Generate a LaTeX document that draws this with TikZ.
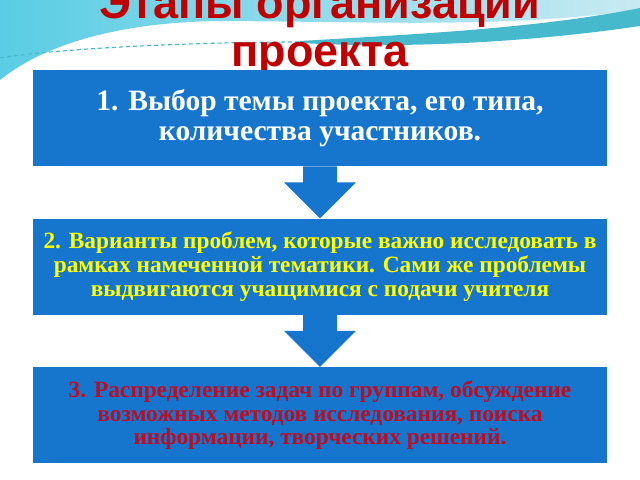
\documentclass[tikz,border=0pt]{standalone}
\usepackage{fontspec}
\setmainfont{Liberation Serif}
\newfontfamily\titlefont{Liberation Sans}
\usepackage{tikz}
\usetikzlibrary{positioning,calc}

\definecolor{boxblue}{RGB}{22,118,206}
\definecolor{titlered}{RGB}{192,0,0}
\definecolor{textyellow}{RGB}{255,255,0}
\definecolor{textred}{RGB}{190,12,34}
\definecolor{waveleft}{RGB}{90,205,228}
\definecolor{waveright}{RGB}{200,234,242}
\definecolor{waveband}{RGB}{70,185,205}

\begin{document}
\begin{tikzpicture}[x=0.025cm,y=-0.025cm,
	stage/.style={fill=boxblue, minimum width=14.35cm, minimum height=2.4cm, inner sep=0pt, align=center, font=\bfseries},
	arrowfill/.style={fill=boxblue}]
	
	\useasboundingbox (0,0) rectangle (640,480);
	\fill[white] (0,0) rectangle (640,480);
	% wave at the top
	\shade[left color=waveleft, right color=waveright] (0,0) -- (640,0) -- (640,10)
		.. controls (500,28) and (400,22) .. (220,21)
		.. controls (130,22) and (50,40) .. (0,80) -- cycle;
	\fill[waveband] (300,41) .. controls (420,34) and (540,28) .. (640,8)
		-- (640,26) .. controls (560,38) and (430,50) .. (300,43) -- cycle;
	\draw[waveband, densely dashed, line width=0.8pt] (0,58) .. controls (60,48) and (200,42) .. (300,42);
	
	\node[font=\titlefont\bfseries\fontsize{32}{34}\selectfont, text=titlered, align=center, anchor=south, inner sep=0pt] (title) at (320,76) {Этапы организации\\проекта};
	
	\node[stage, text=white, font=\bfseries\fontsize{21}{21}\selectfont] (stage1) at (320,118) {1. Выбор темы проекта, его типа,\\количества участников.};
	\node[stage, text=textyellow, font=\bfseries\fontsize{16.6}{17}\selectfont, below=1.3cm of stage1] (stage2) {2. Варианты проблем, которые важно исследовать в\\рамках намеченной тематики. Сами же проблемы\\выдвигаются учащимися с подачи учителя};
	\node[stage, text=textred, font=\bfseries\fontsize{16.6}{17}\selectfont, below=1.3cm of stage2] (stage3) {3. Распределение задач по группам, обсуждение\\возможных методов исследования, поиска\\информации, творческих решений.};
	
	\fill[arrowfill] ($(stage1.south)+(-17,0)$) -- ($(stage1.south)+(17,0)$) -- ($(stage2.north)+(17,-36)$) -- ($(stage2.north)+(36,-36)$) -- (stage2.north) -- ($(stage2.north)+(-36,-36)$) -- ($(stage2.north)+(-17,-36)$) -- cycle;
	\fill[arrowfill] ($(stage2.south)+(-17,0)$) -- ($(stage2.south)+(17,0)$) -- ($(stage3.north)+(17,-36)$) -- ($(stage3.north)+(36,-36)$) -- (stage3.north) -- ($(stage3.north)+(-36,-36)$) -- ($(stage3.north)+(-17,-36)$) -- cycle;
\end{tikzpicture}
\end{document}
